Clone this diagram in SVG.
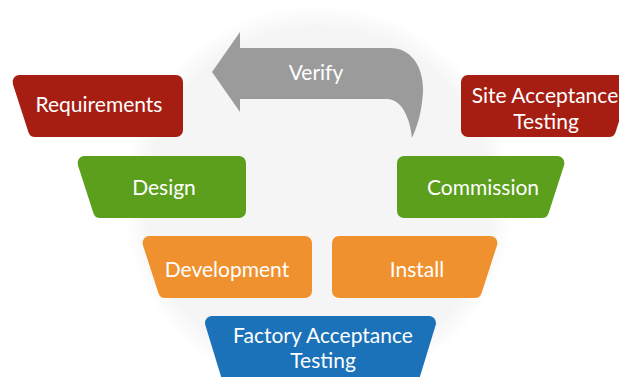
<svg xmlns="http://www.w3.org/2000/svg" width="619" height="377" viewBox="0 0 619 377">
<defs>
<style>
.lbl{font-family:Lato,"Open Sans","Liberation Sans",sans-serif;font-size:21px;fill:#ffffff;text-anchor:middle}
.red{fill:#a61d12;stroke:#a61d12}
.green{fill:#5b9f1c;stroke:#5b9f1c}
.orange{fill:#f0912f;stroke:#f0912f}
.blue{fill:#1b72b9;stroke:#1b72b9}
.shape{stroke-width:14;stroke-linejoin:round}
</style>
<radialGradient id="bg" cx="0.5" cy="0.5" r="0.5">
<stop offset="0.88" stop-color="#f5f5f5"/>
<stop offset="1" stop-color="#f5f5f5" stop-opacity="0"/>
</radialGradient>
</defs>
<rect width="619" height="377" fill="#ffffff"/>
<circle cx="318" cy="200" r="195" fill="url(#bg)"/>
<g id="connectors">
<path id="verify-arrow" d="M 212,72 L 240,32 L 240,48 L 390,48 C 412,48 424,68 423,92 C 422,110 418,125 412,138 C 410,118 402,100 388,99 L 240,99 L 240,112 Z" fill="#9b9b9b"/>
<text class="lbl" x="316" y="80">Verify</text>
</g>
<g id="requirements">
<polygon class="shape red" points="19.6,82 176,82 176,130 35.1,130"/>
<text class="lbl" x="99" y="112">Requirements</text>
</g>
<g id="site-acceptance">
<polygon class="shape red" points="468,82 624.4,82 608.9,130 468,130"/>
<text class="lbl" x="545" y="103">Site Acceptance</text>
<text class="lbl" x="546" y="129">Testing</text>
</g>
<g id="design">
<polygon class="shape green" points="84.6,163 239,163 239,211 100.1,211"/>
<text class="lbl" x="164" y="195">Design</text>
</g>
<g id="commission">
<polygon class="shape green" points="404,163 557.4,163 541.9,211 404,211"/>
<text class="lbl" x="483" y="195">Commission</text>
</g>
<g id="development">
<polygon class="shape orange" points="149.6,243 305,243 305,291 165.1,291"/>
<text class="lbl" x="227" y="277">Development</text>
</g>
<g id="install">
<polygon class="shape orange" points="339,243 490.4,243 474.9,291 339,291"/>
<text class="lbl" x="417" y="277">Install</text>
</g>
<g id="factory-acceptance">
<polygon class="shape blue" points="212,323 429,323 407,395 234,395"/>
<text class="lbl" x="323" y="343">Factory Acceptance</text>
<text class="lbl" x="323" y="368">Testing</text>
</g>
</svg>
